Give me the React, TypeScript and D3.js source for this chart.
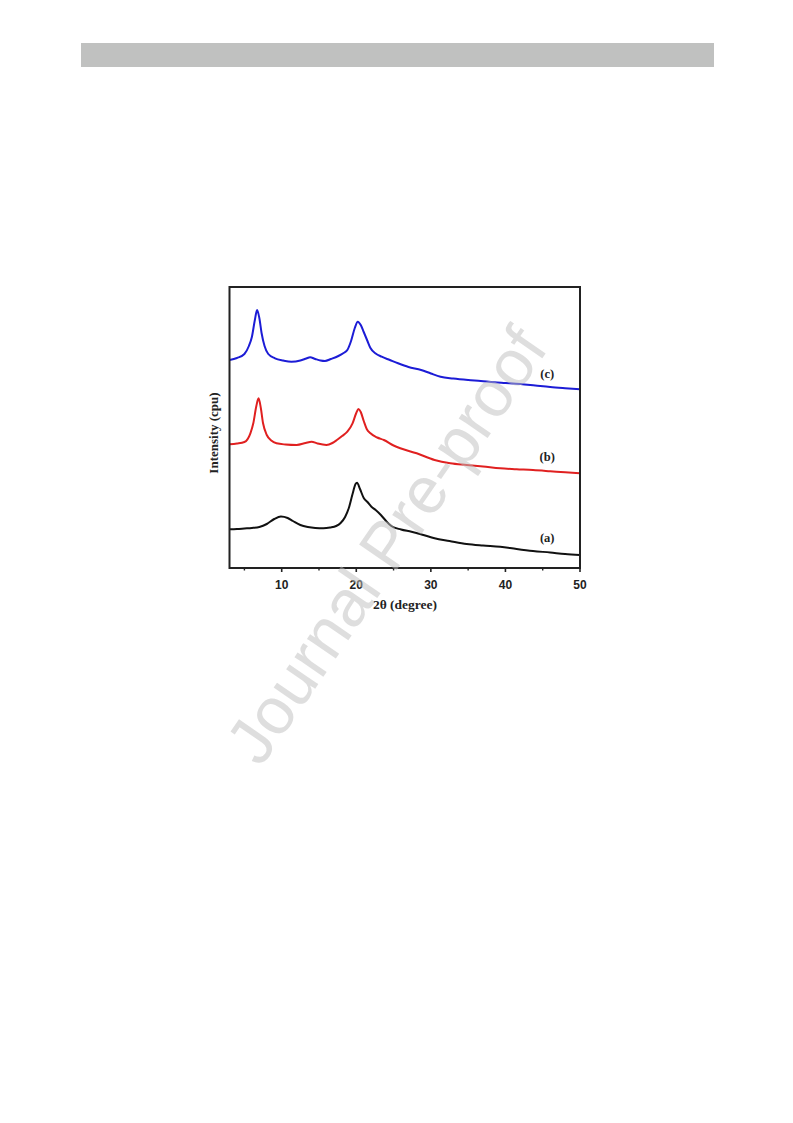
import React from "react";
import * as d3 from "d3";

// 2θ positions (degree) and intensities (a.u.)
const seriesA_x = [3, 4, 5, 6, 7, 8, 9, 9.9, 10.8, 11.5, 12.5, 13.5, 14.5, 15.6, 16.5, 17.3, 17.9, 18.5, 19.0, 19.5, 19.9, 20.1, 20.5, 21, 21.5, 22, 22.6, 23.3, 24, 24.7, 26, 27.4, 29, 30.5, 32.5, 34.8, 37, 39.3, 41.5, 43.7, 46, 48, 50];
const seriesA_y = [38.7, 39, 39.5, 40, 41, 44, 49, 51.5, 50, 47, 43, 41, 40, 39.7, 40.5, 42, 45, 51, 60, 74, 84, 85.3, 79, 70, 66, 61.5, 58, 53, 47, 42, 38.5, 36.3, 33, 29.7, 27, 24, 22.5, 21.3, 19, 17, 15.5, 14, 13];

const seriesB_x = [3, 4, 5, 5.8, 6.2, 6.6, 6.9, 7.2, 7.5, 8.0, 8.6, 9.3, 10.5, 12.0, 13.2, 14.0, 14.8, 16.0, 16.8, 17.4, 18.1, 18.8, 19.5, 20.0, 20.3, 20.6, 21.0, 21.4, 21.9, 22.8, 23.7, 25, 25.9, 28.1, 30.5, 32.6, 34.8, 37, 39.3, 41.5, 43.7, 46, 48, 50];
const seriesB_y = [123.7, 124.5, 126, 134.7, 145, 162, 169.7, 160, 144.7, 133, 127.5, 124.7, 123.5, 123, 125, 126.3, 124.5, 123, 125, 128, 132, 136.3, 144.7, 155, 159, 156, 147, 139, 134.7, 130.5, 128, 122.5, 119.7, 114.7, 108, 104.7, 103, 101.5, 99.7, 98.8, 98, 96.8, 95.7, 94.7];

const seriesC_x = [3, 4, 5, 5.6, 6.0, 6.4, 6.7, 7.0, 7.3, 7.7, 8.2, 9.1, 10.2, 11.3, 12.5, 13.3, 13.8, 14.5, 15.2, 15.8, 16.6, 17.6, 18.3, 18.8, 19.3, 19.8, 20.2, 20.6, 21.0, 21.5, 21.9, 22.6, 23.4, 24.5, 25.6, 27, 28.7, 30, 31.3, 33, 35, 36.7, 38.5, 40, 42, 44, 46, 48, 50];
const seriesC_y = [208, 210, 214, 222, 231, 248, 258, 250, 235, 222, 214, 209.7, 207.5, 206.3, 207.5, 209.5, 210.7, 209, 207.5, 207, 209, 212, 215, 218, 227, 240, 246.3, 243, 236, 227, 220, 214.5, 211.3, 208, 204.7, 201, 198, 194.5, 191.3, 189.5, 188, 187, 185.7, 185, 184, 182.5, 181, 179.8, 178.7];

const seriesNames = ["(a)", "(b)", "(c)"];
const seriesColors = ["#111111", "#e02020", "#1c1cd6"];
const labelAnchor2Theta = [45.6, 45.6, 45.6];
const labelIntensity = [30, 111, 194];

const majorTicks = [10, 20, 30, 40, 50];
const minorTicks = [5, 15, 25, 35, 45];

const xTitle = "2θ (degree)";
const yTitle = "Intensity (cpu)";
const watermark = "Journal Pre-proof";

export default function App() {
  const left = 229.5, right = 580, top = 287, bottom = 568;
  const x = d3.scaleLinear().domain([3, 50]).range([left, right]);
  const y = d3.scaleLinear().domain([0, 281]).range([bottom, top]);
  const line = d3
    .line<[number, number]>()
    .x((d) => x(d[0]))
    .y((d) => y(d[1]))
    .curve(d3.curveMonotoneX);

  const series = [
    d3.zip(seriesA_x, seriesA_y) as [number, number][],
    d3.zip(seriesB_x, seriesB_y) as [number, number][],
    d3.zip(seriesC_x, seriesC_y) as [number, number][],
  ];

  const serif = "'Liberation Serif', 'Times New Roman', serif";
  const sans = "'Liberation Sans', Arial, sans-serif";

  return (
    <svg
      width={793}
      height={1123}
      style={{ position: "absolute", left: 0, top: 0, background: "#fff" }}
    >
      <rect x={81} y={43} width={633} height={24} fill="#c0c1c0" />

      <defs>
        <clipPath id="clip">
          <rect x={left} y={top} width={right - left} height={bottom - top} />
        </clipPath>
      </defs>
      <g clipPath="url(#clip)">
        {series.map((s, i) => (
          <path
            key={i}
            d={line(s) || ""}
            fill="none"
            stroke={seriesColors[i]}
            strokeWidth={2}
            strokeLinejoin="round"
          />
        ))}
      </g>

      {seriesNames.map((n, i) => (
        <text
          key={n}
          x={x(labelAnchor2Theta[i])}
          y={y(labelIntensity[i])}
          fontFamily={serif}
          fontWeight="bold"
          fontSize={12.5}
          textAnchor="middle"
          dominantBaseline="central"
          fill="#222"
        >
          {n}
        </text>
      ))}

      <rect
        x={left}
        y={top}
        width={right - left}
        height={bottom - top}
        fill="none"
        stroke="#222"
        strokeWidth={2}
      />

      {majorTicks.map((t) => (
        <g key={"M" + t}>
          <line x1={x(t)} x2={x(t)} y1={bottom} y2={bottom + 4} stroke="#222" strokeWidth={1.6} />
          <text
            x={x(t)}
            y={bottom + 17}
            textAnchor="middle"
            dominantBaseline="central"
            fontFamily={sans}
            fontWeight="bold"
            fontSize={12}
            fill="#222"
          >
            {t}
          </text>
        </g>
      ))}
      {minorTicks.map((t) => (
        <line key={"m" + t} x1={x(t)} x2={x(t)} y1={bottom} y2={bottom + 2.5} stroke="#222" strokeWidth={1.4} />
      ))}

      <text
        x={405}
        y={604}
        textAnchor="middle"
        dominantBaseline="central"
        fontFamily={serif}
        fontWeight="bold"
        fontSize={13.5}
        fill="#222"
      >
        {xTitle}
      </text>
      <text
        transform={`translate(213, 433) rotate(-90)`}
        textAnchor="middle"
        dominantBaseline="central"
        fontFamily={serif}
        fontWeight="bold"
        fontSize={13}
        fill="#222"
      >
        {yTitle}
      </text>

      <text
        transform="translate(386, 545) rotate(-55.5)"
        textAnchor="middle"
        dominantBaseline="central"
        fontFamily={sans}
        fontSize={66}
        fill="#bdbdbd"
        fillOpacity={0.5}
      >
        {watermark}
      </text>
    </svg>
  );
}
